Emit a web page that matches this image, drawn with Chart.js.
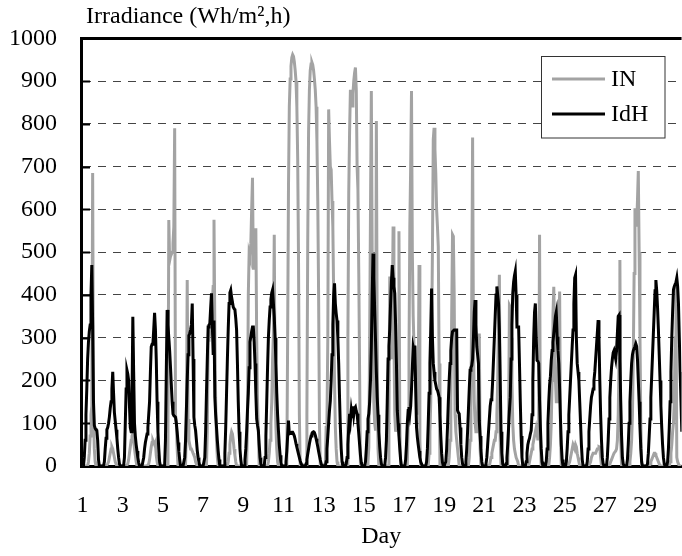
<!DOCTYPE html>
<html>
<head>
<meta charset="utf-8">
<script src="https://cdn.jsdelivr.net/npm/chart.js@4.4.1/dist/chart.umd.min.js"></script>
<style>
  html, body { margin: 0; padding: 0; background: #fff; }
  #chart { display: block; }
</style>
</head>
<body>
<canvas id="chart" width="682" height="556"></canvas>
<script>
// day numbers, one row of 24 hourly values per day
const days = [1, 2, 3, 4, 5, 6, 7, 8, 9, 10, 11, 12, 13, 14, 15, 16, 17, 18, 19, 20, 21, 22, 23, 24, 25, 26, 27, 28, 29, 30];
const dayTicks = [1, 3, 5, 7, 9, 11, 13, 15, 17, 19, 21, 23, 25, 27, 29];
const yTicks = [0, 100, 200, 300, 400, 500, 600, 700, 800, 900, 1000];
const seriesNames = ['IN', 'IdH'];

const inByDay = [
    [0,0,0,0,0,0,0,10,30,70,120,140,685,130,40,10,0,0,0,0,0,0,0,0],
    [0,0,0,0,0,0,5,10,20,30,40,45,40,30,20,10,5,0,0,0,0,0,0,0],
    [0,0,0,0,0,0,5,15,30,45,60,70,75,60,40,25,10,0,0,0,0,0,0,0],
    [0,0,0,0,0,0,0,5,15,30,45,55,60,55,50,55,25,10,0,0,0,0,0,0],
    [0,0,0,0,0,0,80,575,480,490,495,500,520,560,790,120,100,40,0,0,0,0,0,0],
    [0,0,0,0,100,435,110,60,50,40,40,35,30,25,20,10,5,0,0,0,0,0,0,0],
    [0,0,0,0,0,80,294,300,310,330,340,380,420,576,318,150,60,20,0,0,0,0,0,0],
    [0,0,0,0,0,0,10,30,50,70,80,75,60,40,25,10,0,0,0,0,0,0,0,0],
    [0,0,0,0,0,100,400,498,490,520,600,674,459,480,520,556,300,150,83,0,0,0,0,0],
    [0,0,0,0,0,0,10,30,60,100,150,250,310,541,173,90,40,10,0,0,0,0,0,0],
    [0,0,0,0,0,300,650,840,905,935,955,962,958,945,925,900,840,720,480,120,0,0,0,0],
    [0,0,0,0,120,520,780,880,925,940,944,938,925,905,880,840,760,620,400,100,0,0,0,0],
    [0,0,0,90,110,300,834,760,700,693,620,560,400,200,90,40,10,0,0,0,0,0,0,0],
    [0,0,0,0,0,300,638,780,880,850,842,870,900,920,932,880,700,646,450,216,0,0,0,0],
    [0,0,0,0,0,10,44,300,600,877,500,300,150,100,83,807,300,40,0,0,0,0,0,0],
    [0,0,0,0,0,0,100,443,300,250,350,560,300,120,80,100,120,200,549,100,0,0,0,0],
    [0,0,0,0,0,100,260,560,700,877,500,350,280,240,200,150,120,180,470,60,0,0,0,0],
    [0,0,0,0,0,0,30,80,150,300,500,764,791,740,685,600,560,513,240,0,0,0,0,0],
    [0,0,0,0,0,0,20,60,150,350,541,537,400,120,80,60,40,20,0,0,0,0,0,0],
    [0,0,0,0,0,0,20,60,150,400,768,300,150,100,80,80,120,200,310,40,0,0,0,0],
    [0,0,0,0,0,0,0,10,20,30,40,50,60,60,80,120,200,350,447,60,0,0,0,0],
    [0,0,0,0,0,100,376,372,300,200,100,60,40,30,20,20,10,0,0,0,0,0,0,0],
    [0,0,0,0,0,0,10,20,30,40,50,60,70,80,90,80,60,100,541,60,0,0,0,0],
    [0,0,0,0,0,0,20,50,100,200,350,419,300,200,150,150,200,300,408,80,0,0,0,0],
    [0,0,0,0,0,0,10,20,30,40,50,45,40,50,45,30,20,10,0,0,0,0,0,0],
    [0,0,0,0,0,0,5,10,20,25,30,30,30,30,35,40,40,45,44,20,0,0,0,0],
    [0,0,0,0,0,0,5,10,15,20,25,30,30,35,40,60,120,250,482,60,0,0,0,0],
    [0,0,0,0,0,0,10,30,60,120,250,450,603,580,560,620,690,500,300,100,0,0,0,0],
    [0,0,0,0,0,0,5,10,15,20,25,30,30,25,20,15,10,5,0,0,0,0,0,0],
    [0,0,0,0,0,0,10,30,50,80,100,150,300,420,20,10,5,0,0,0,0,0,0,0]
];

const idhByDay = [
    [0,0,20,60,120,180,250,290,315,330,400,470,330,150,95,88,85,83,60,15,0,0,0,0],
    [0,0,10,40,65,85,90,100,115,135,150,180,220,170,125,105,85,65,40,20,5,0,0,0],
    [0,0,20,100,180,224,215,200,140,90,80,150,349,220,100,70,50,35,20,8,0,0,0,0],
    [0,20,40,55,65,75,90,120,150,220,279,285,286,320,358,320,250,150,80,40,10,0,0,0],
    [0,0,0,60,220,365,330,300,270,232,190,150,122,118,116,114,100,80,55,35,15,0,0,0],
    [0,0,20,60,130,200,260,305,310,318,330,380,250,114,95,83,60,36,20,10,0,0,0,0],
    [0,0,20,80,170,250,325,330,333,370,404,330,263,340,161,120,90,60,35,15,0,0,0,0],
    [0,0,30,90,170,250,320,380,405,411,395,384,372,368,365,345,318,240,150,80,40,15,0,0],
    [0,0,15,40,80,130,170,230,290,302,315,325,325,290,240,170,110,95,83,50,20,5,0,0],
    [0,0,20,70,150,230,300,340,372,390,405,412,380,349,300,240,170,120,83,50,25,8,0,0],
    [0,0,0,10,35,70,106,75,76,78,79,79,75,70,62,52,44,36,28,20,12,6,2,0],
    [0,0,0,5,15,28,40,52,62,70,76,79,80,78,72,64,55,45,34,24,14,6,0,0],
    [0,0,0,10,40,70,100,130,153,200,260,330,400,427,380,357,340,300,240,160,90,40,10,0],
    [0,0,0,5,20,50,90,122,106,130,115,140,120,135,138,128,122,100,75,50,25,8,0,0],
    [0,0,10,40,80,110,122,150,200,280,400,497,440,365,294,220,161,120,80,45,20,5,0,0],
    [0,0,20,60,150,250,280,320,380,430,470,440,420,404,330,240,130,100,70,40,15,0,0,0],
    [0,0,15,50,100,130,138,122,140,180,230,279,270,282,180,90,67,50,35,20,10,5,0,0],
    [0,0,0,10,40,100,170,240,320,415,300,240,220,200,190,180,177,170,161,120,70,30,8,0],
    [0,0,10,40,90,150,200,240,270,300,314,316,318,318,318,318,130,125,122,90,50,20,5,0],
    [0,0,10,40,80,130,180,224,230,235,250,300,360,388,330,279,260,240,106,70,35,10,0,0],
    [0,0,5,20,50,80,110,140,155,161,200,250,300,350,400,420,400,380,318,200,80,30,5,0],
    [0,0,5,20,50,90,130,161,250,330,404,430,445,455,400,325,325,325,240,150,70,20,0,0],
    [0,0,10,30,50,59,65,75,83,120,200,300,360,380,300,247,245,240,153,90,40,10,0,0],
    [0,0,10,40,100,150,190,210,247,270,290,310,330,350,360,302,270,240,180,110,50,15,0,0],
    [0,0,10,40,80,120,160,200,240,280,318,380,440,447,300,240,220,200,150,100,50,15,0,0],
    [0,0,0,10,40,80,110,140,161,170,180,200,220,250,280,310,341,300,200,120,60,20,5,0],
    [0,0,0,20,60,110,160,200,230,250,265,270,260,250,270,310,350,353,250,150,70,20,5,0],
    [0,0,0,15,50,100,150,200,240,260,270,275,280,286,280,250,200,150,90,40,10,0,0,0],
    [0,0,0,5,30,70,110,160,210,260,310,360,410,435,410,370,320,260,200,140,90,50,20,5],
    [0,0,0,10,40,90,150,220,300,360,412,420,425,430,440,420,380,300,220,150,80,30,10,0]
];

const FONT = "'Liberation Serif', 'Times New Roman', serif";
const GRAY = '#a3a3a3';

function toPoints(byDay) {
    const points = [];
    byDay.forEach((values, d) => {
        values.forEach((v, h) => {
            points.push({ x: days[d] + h / 24, y: v });
        });
    });
    return points;
}

// top frame line, inward y ticks, axis caption and legend box
const decorations = {
    id: 'decorations',
    afterDraw(chart) {
        const ctx = chart.ctx;
        const area = chart.chartArea;
        const y = chart.scales.y;
        ctx.save();

        ctx.strokeStyle = '#000';
        ctx.lineWidth = 3;
        ctx.beginPath();
        ctx.moveTo(area.left - 1, area.top);
        ctx.lineTo(area.right, area.top);
        ctx.stroke();

        ctx.lineWidth = 2;
        yTicks.slice(1, -1).forEach((v) => {
            const py = Math.round(y.getPixelForValue(v)) + 0.5;
            ctx.beginPath();
            ctx.moveTo(area.left, py);
            ctx.lineTo(area.left + 9, py);
            ctx.stroke();
        });

        ctx.fillStyle = '#000';
        ctx.font = '24px ' + FONT;
        ctx.textBaseline = 'middle';
        ctx.textAlign = 'left';
        ctx.fillText('Irradiance (Wh/m\u00B2,h)', 86, 17);

        // legend
        const lx = 541.5, ly = 56.5, lw = 123.5, lh = 81.5;
        ctx.fillStyle = '#fff';
        ctx.fillRect(lx, ly, lw, lh);
        ctx.strokeStyle = '#333';
        ctx.lineWidth = 1;
        ctx.strokeRect(lx, ly, lw, lh);
        const rows = [[seriesNames[0], GRAY, 79], [seriesNames[1], '#000', 114]];
        rows.forEach(([name, color, ry]) => {
            ctx.strokeStyle = color;
            ctx.lineWidth = 3;
            ctx.beginPath();
            ctx.moveTo(552, ry);
            ctx.lineTo(605, ry);
            ctx.stroke();
            ctx.fillStyle = '#000';
            ctx.fillText(name, 611, ry + 1);
        });

        ctx.restore();
    }
};

const data = {
    datasets: [
        {
            label: seriesNames[0],
            data: toPoints(inByDay),
            borderColor: GRAY,
            borderWidth: 3,
            pointRadius: 0,
            tension: 0,
            order: 2
        },
        {
            label: seriesNames[1],
            data: toPoints(idhByDay),
            borderColor: '#000',
            borderWidth: 3,
            pointRadius: 0,
            tension: 0,
            order: 1
        }
    ]
};

const options = {
    responsive: false,
    animation: false,
    devicePixelRatio: 1,
    layout: {
        padding: { top: 38, left: 0, right: 0, bottom: 0 }
    },
    plugins: {
        legend: { display: false },
        tooltip: { enabled: false }
    },
    scales: {
        x: {
            type: 'linear',
            min: 0.92,
            max: 30.82,
            afterBuildTicks: (scale) => {
                scale.ticks = dayTicks.map((v) => ({ value: v }));
            },
            afterFit: (scale) => {
                scale.height = 90;
            },
            ticks: {
                color: '#000',
                padding: 25,
                maxRotation: 0,
                autoSkip: false,
                font: { family: FONT, size: 24 },
                callback: (value) => String(value)
            },
            grid: {
                display: false,
                drawTicks: false
            },
            border: {
                display: true,
                color: '#000',
                width: 3
            },
            title: {
                display: true,
                text: 'Day',
                color: '#000',
                padding: { top: 0, bottom: 5 },
                font: { family: FONT, size: 24 }
            }
        },
        y: {
            min: 0,
            max: 1000,
            afterBuildTicks: (scale) => {
                scale.ticks = yTicks.map((v) => ({ value: v }));
            },
            afterFit: (scale) => {
                scale.width = 81;
            },
            ticks: {
                color: '#000',
                padding: 24,
                font: { family: FONT, size: 24 },
                callback: (value) => String(value)
            },
            grid: {
                color: '#444',
                lineWidth: 1,
                drawTicks: false
            },
            border: {
                display: true,
                color: '#000',
                width: 3,
                dash: [8, 7]
            }
        }
    }
};

const chart = new Chart(document.getElementById('chart'), {
    type: 'line',
    data: data,
    options: options,
    plugins: [decorations]
});
</script>
</body>
</html>
